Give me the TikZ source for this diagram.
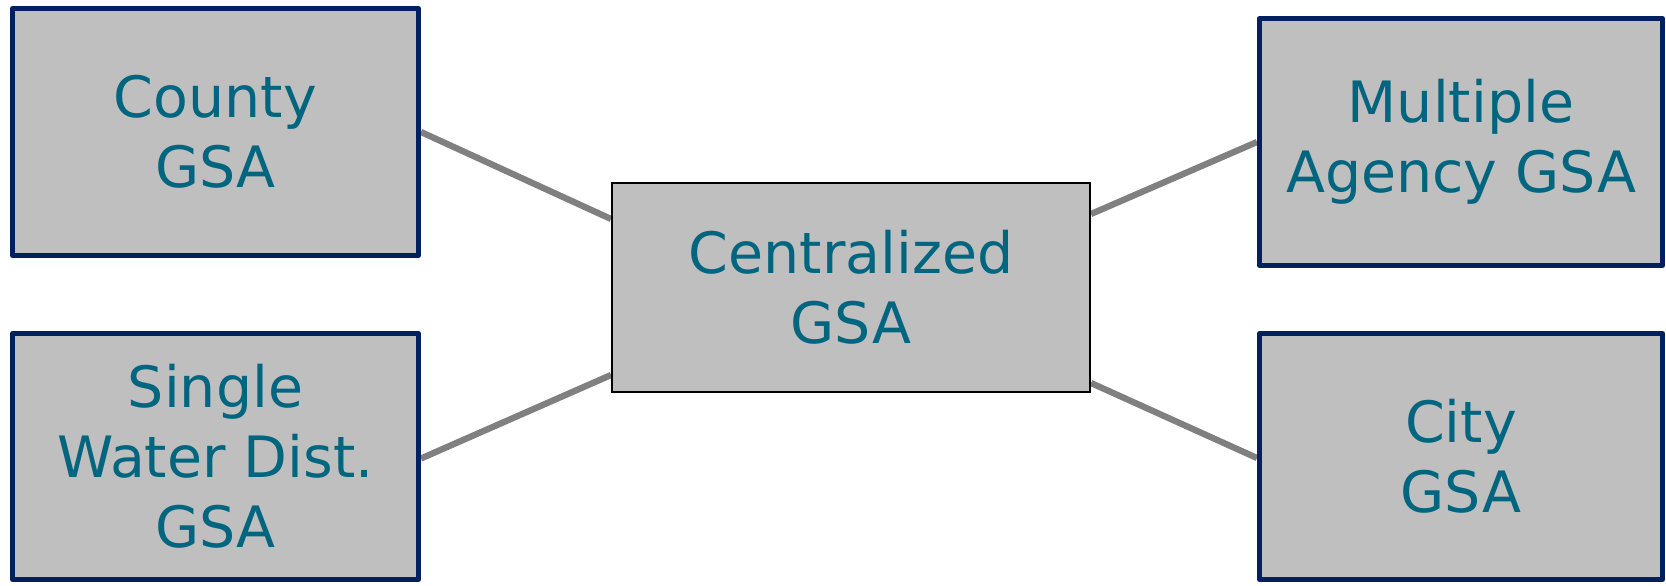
\documentclass[tikz,border=0pt]{standalone}
\usepackage{fontspec}
\setmainfont{DejaVu Sans}
\usetikzlibrary{backgrounds}
\definecolor{boxfill}{HTML}{BFBFBF}
\definecolor{navy}{HTML}{002060}
\definecolor{txt}{HTML}{00657F}
\definecolor{link}{HTML}{808080}
\tikzset{
  gsabox/.style={draw=navy, line width=5pt, line join=round, fill=boxfill, text=txt, align=center,
    inner sep=0pt, font=\fontsize{57}{70}\selectfont},
  cenbox/.style={draw=black, line width=2pt, fill=boxfill, text=txt, align=center,
    inner sep=0pt, font=\fontsize{57}{70}\selectfont},
  linkline/.style={draw=link, line width=6.3pt}
}
\begin{document}
\begin{tikzpicture}[x=1pt,y=-1pt]
\useasboundingbox (0,0) rectangle (1666,586);
\node[gsabox, minimum width=406pt, minimum height=247pt] (county) at (215.5,132) {County\\GSA};
\node[gsabox, minimum width=406pt, minimum height=246pt] (single) at (215.5,456.5) {Single\\Water Dist.\\GSA};
\node[gsabox, minimum width=403pt, minimum height=247pt] (multi) at (1461,142) {Multiple\\Agency GSA};
\node[gsabox, minimum width=403pt, minimum height=246pt] (city) at (1461,456.5) {City\\GSA};
\node[cenbox, minimum width=478pt, minimum height=209pt] (cen) at (851,287.5) {Centralized\\GSA};
\begin{scope}[on background layer]
\draw[linkline] (county.east) -- ([yshift=68.5pt]cen.west);
\draw[linkline] ([yshift=-2pt]single.east) -- ([yshift=-87.5pt]cen.west);
\draw[linkline] ([yshift=73.5pt]cen.east) -- (multi.west);
\draw[linkline] ([yshift=-95.5pt]cen.east) -- ([yshift=-1.5pt]city.west);
\end{scope}
\end{tikzpicture}
\end{document}
